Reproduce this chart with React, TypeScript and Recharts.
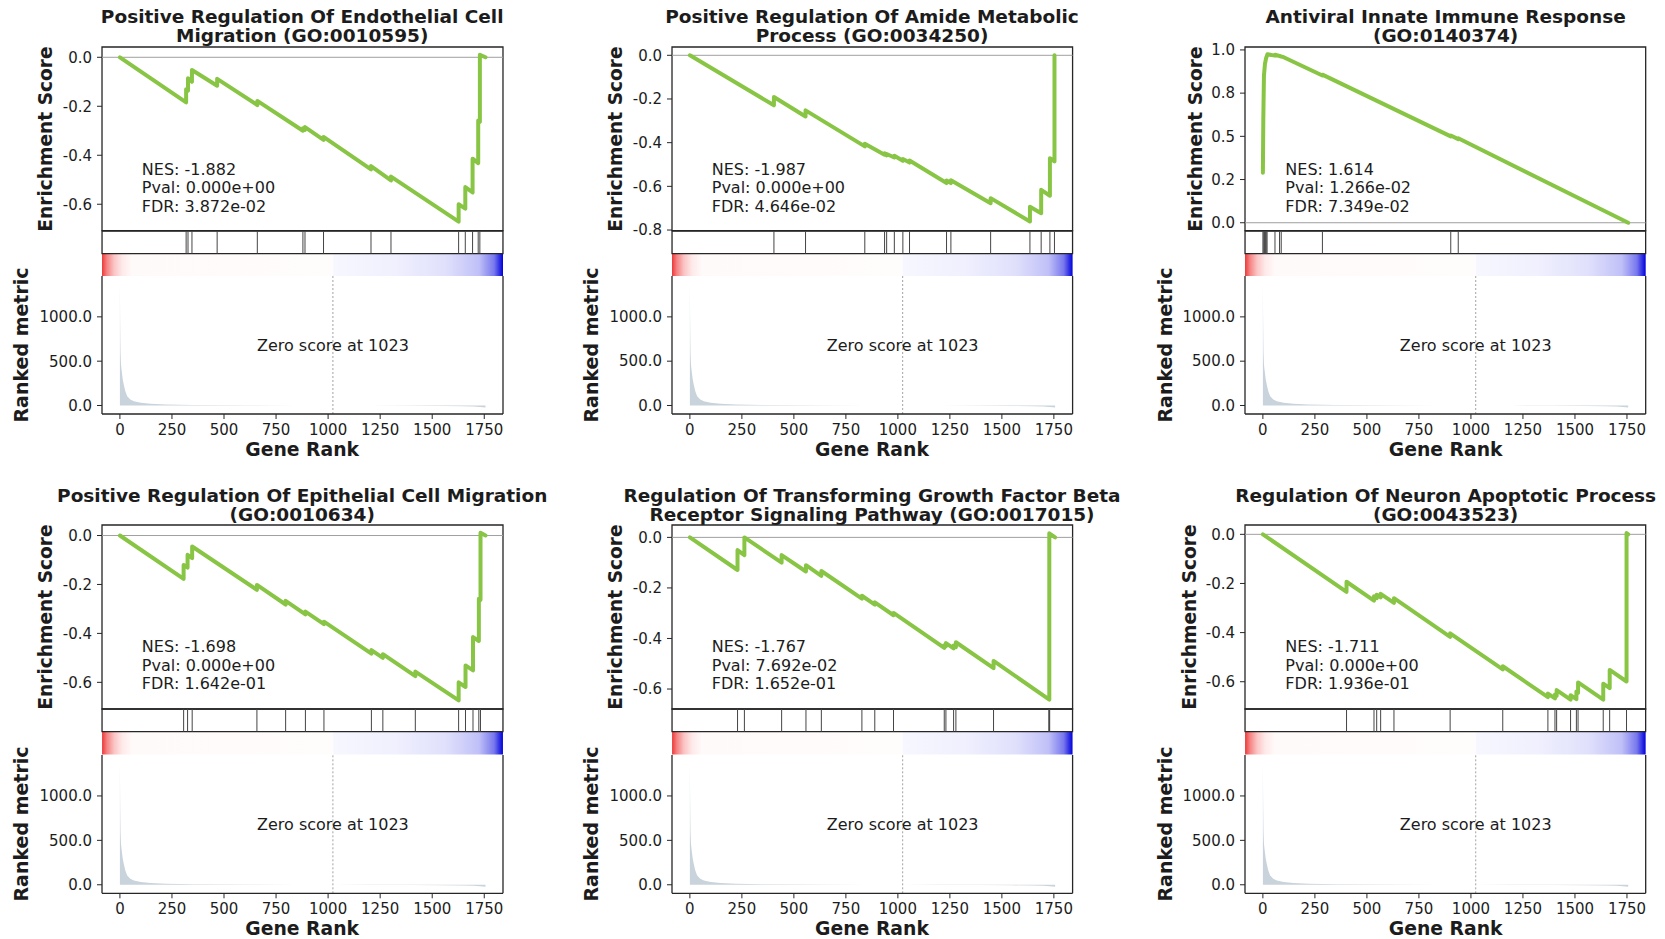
import React from 'react';
import { ComposedChart, Line, Area, XAxis, YAxis, ReferenceLine, ReferenceArea } from 'recharts';

const FONT = '"DejaVu Sans", "Liberation Sans", sans-serif';
const INK = '#1c1c1c';
const GREEN = '#88C544';
const FILL = '#C9D3DB';

// ---------- data ----------
const X_TICKS = [0, 250, 500, 750, 1000, 1250, 1500, 1750];
const X_DOMAIN: [number, number] = [-86, 1840];
const METRIC_TICKS = [0, 500, 1000];
const METRIC_DOMAIN: [number, number] = [-96, 1461];
const ZERO_SCORE = 1023;

// ranked list metric (rank, value)
const RANK_METRIC: [number, number][] = [
  [0, 1390], [1, 1000], [2, 760], [3, 600], [5, 470], [7, 420], [10, 360], [14, 290], [19, 230],
  [26, 160], [35, 105], [50, 68], [67, 48], [100, 30], [147, 19], [220, 11], [350, 6], [600, 3],
  [850, 1], [1023, 0], [1200, -1.5], [1400, -3.5], [1550, -6], [1650, -9], [1700, -12], [1730, -16], [1756, -22],
];

const TITLES: [string, string][] = [
  ['Positive Regulation Of Endothelial Cell', 'Migration (GO:0010595)'],
  ['Positive Regulation Of Amide Metabolic', 'Process (GO:0034250)'],
  ['Antiviral Innate Immune Response', '(GO:0140374)'],
  ['Positive Regulation Of Epithelial Cell Migration', '(GO:0010634)'],
  ['Regulation Of Transforming Growth Factor Beta', 'Receptor Signaling Pathway (GO:0017015)'],
  ['Regulation Of Neuron Apoptotic Process', '(GO:0043523)'],
];
const NES = ['-1.882', '-1.987', '1.614', '-1.698', '-1.767', '-1.711'];
const PVAL = ['0.000e+00', '0.000e+00', '1.266e-02', '0.000e+00', '7.692e-02', '0.000e+00'];
const FDR = ['3.872e-02', '4.646e-02', '7.349e-02', '1.642e-01', '1.652e-01', '1.936e-01'];

const ES_1: [number, number][] = [
  [0, 0], [318, -0.184], [318, -0.131], [327, -0.136], [327, -0.086], [346, -0.1], [346, -0.052],
  [467, -0.116], [467, -0.088], [660, -0.195], [660, -0.178], [879, -0.3], [879, -0.29], [889, -0.296],
  [889, -0.285], [978, -0.337], [978, -0.325], [1206, -0.458], [1206, -0.444], [1302, -0.503], [1302, -0.487],
  [1627, -0.671], [1627, -0.6], [1659, -0.618], [1659, -0.53], [1694, -0.552], [1694, -0.414], [1721, -0.432],
  [1721, -0.258], [1729, -0.263], [1729, 0.01], [1756, 0],
];
const HITS_1 = [318, 327, 346, 467, 660, 879, 889, 978, 1206, 1302, 1627, 1659, 1694, 1721, 1729];

const ES_2: [number, number][] = [
  [0, 0], [404, -0.229], [404, -0.191], [556, -0.28], [556, -0.252], [841, -0.417], [841, -0.405],
  [936, -0.455], [936, -0.448], [946, -0.458], [946, -0.452], [983, -0.468], [983, -0.46], [1024, -0.483],
  [1024, -0.475], [1056, -0.491], [1056, -0.482], [1234, -0.585], [1234, -0.573], [1255, -0.585], [1255, -0.572],
  [1446, -0.677], [1446, -0.654], [1635, -0.761], [1635, -0.693], [1689, -0.723], [1689, -0.616], [1731, -0.643],
  [1731, -0.471], [1753, -0.486], [1753, 0],
];
const HITS_2 = [404, 556, 841, 936, 946, 983, 1024, 1056, 1234, 1255, 1446, 1635, 1689, 1731, 1753];

const ES_3: [number, number][] = [
  [0, 0.29], [2, 0.6], [5, 0.85], [10, 0.92], [16, 0.955], [22, 0.975], [58, 0.967], [58, 0.972],
  [80, 0.965], [88, 0.962], [100, 0.958], [286, 0.852], [286, 0.857], [903, 0.5], [903, 0.505],
  [939, 0.484], [939, 0.489], [1756, 0],
];
const HITS_3 = [0, 4, 8, 12, 16, 20, 58, 80, 88, 286, 903, 939];

const ES_4: [number, number][] = [
  [0, 0], [306, -0.177], [306, -0.12], [325, -0.131], [325, -0.079], [347, -0.092], [347, -0.045],
  [658, -0.222], [658, -0.202], [796, -0.282], [796, -0.267], [891, -0.322], [891, -0.311], [980, -0.362],
  [980, -0.352], [1208, -0.483], [1208, -0.468], [1263, -0.5], [1263, -0.485], [1419, -0.575], [1419, -0.556],
  [1627, -0.674], [1627, -0.6], [1660, -0.619], [1660, -0.531], [1696, -0.551], [1696, -0.415], [1724, -0.431],
  [1724, -0.258], [1732, -0.263], [1732, 0.011], [1756, 0],
];
const HITS_4 = [306, 325, 347, 658, 796, 891, 980, 1208, 1263, 1419, 1627, 1660, 1696, 1724, 1732];

const ES_5: [number, number][] = [
  [0, 0], [229, -0.129], [229, -0.05], [262, -0.07], [262, 0], [441, -0.1], [441, -0.07], [558, -0.135],
  [558, -0.11], [632, -0.152], [632, -0.133], [827, -0.242], [827, -0.231], [889, -0.266], [889, -0.257],
  [979, -0.308], [979, -0.299], [1223, -0.437], [1223, -0.427], [1231, -0.431], [1231, -0.418], [1268, -0.439],
  [1268, -0.428], [1279, -0.434], [1279, -0.415], [1460, -0.517], [1460, -0.489], [1728, -0.642], [1728, 0.016],
  [1756, 0],
];
const HITS_5 = [229, 262, 441, 558, 632, 827, 889, 979, 1223, 1231, 1268, 1279, 1460, 1726, 1728, 1730];

const ES_6: [number, number][] = [
  [0, 0], [402, -0.234], [402, -0.193], [534, -0.27], [534, -0.252], [547, -0.26], [547, -0.246], [566, -0.257],
  [566, -0.242], [630, -0.279], [630, -0.26], [900, -0.417], [900, -0.403], [1153, -0.55], [1153, -0.537],
  [1370, -0.663], [1370, -0.648], [1404, -0.668], [1404, -0.652], [1412, -0.657], [1412, -0.634], [1479, -0.673],
  [1479, -0.655], [1507, -0.671], [1507, -0.64], [1515, -0.645], [1515, -0.603], [1636, -0.673], [1636, -0.608],
  [1667, -0.626], [1667, -0.552], [1748, -0.599], [1748, 0.005], [1756, 0],
];
const HITS_6 = [402, 534, 547, 566, 630, 900, 1153, 1370, 1404, 1412, 1479, 1507, 1515, 1636, 1667, 1748];

const ES_TICKS_A = [-0.6, -0.4, -0.2, 0];
const ES_TICKS_B = [-0.8, -0.6, -0.4, -0.2, 0];
const ES_TICKS_C = [0, 0.25, 0.5, 0.75, 1];
const ES_TICK_LABELS_C = ['0.0', '0.2', '0.5', '0.8', '1.0'];

// ---------- layout ----------
const COLS = [
  { l: 101.7, r: 502.7 },
  { l: 671.7, r: 1072.3 },
  { l: 1245.3, r: 1646 },
];
const ROWS = [
  { t: 47, es: 230.7, hits: 253.3, cb: 276.3, b: 414.3, t1: 17.3, t2: 36 },
  { t: 524.7, es: 708.7, hits: 731.3, cb: 754.7, b: 893, t1: 495.5, t2: 514.5 },
];

const fmt1 = (v: number) => v.toFixed(1);
const fmtC = (v: number) => ES_TICK_LABELS_C[ES_TICKS_C.indexOf(v)] ?? v.toFixed(1);

const PANELS = [
  { es: ES_1, hits: HITS_1, domain: [-0.708, 0.042] as [number, number], ticks: ES_TICKS_A, fmt: fmt1, labelDx: 55.5 },
  { es: ES_2, hits: HITS_2, domain: [-0.803, 0.038] as [number, number], ticks: ES_TICKS_B, fmt: fmt1, labelDx: 56 },
  { es: ES_3, hits: HITS_3, domain: [-0.046, 1.017] as [number, number], ticks: ES_TICKS_C, fmt: fmtC, labelDx: 49.5 },
  { es: ES_4, hits: HITS_4, domain: [-0.709, 0.043] as [number, number], ticks: ES_TICKS_A, fmt: fmt1, labelDx: 55.5 },
  { es: ES_5, hits: HITS_5, domain: [-0.679, 0.049] as [number, number], ticks: ES_TICKS_A, fmt: fmt1, labelDx: 56 },
  { es: ES_6, hits: HITS_6, domain: [-0.711, 0.038] as [number, number], ticks: ES_TICKS_A, fmt: fmt1, labelDx: 55.5 },
];

const PAD = 6;
const PADB = 14;
const YW = 70;
const XH = 30;
const TICK_STYLE = { fontSize: 15, fill: INK, fontFamily: FONT };
const FRAME = '#262626';

type Col = { l: number; r: number };
type Row = typeof ROWS[number];

function EsChart({ p, col, row }: { p: typeof PANELS[number]; col: Col; row: Row }) {
  const plotW = col.r - col.l;
  const h = row.es - row.t;
  const data = p.es.map(([x, y]) => ({ x, y }));
  return (
    <div style={{ position: 'absolute', left: col.l - YW, top: row.t - PAD }}>
      <ComposedChart width={YW + plotW + PAD} height={h + PAD + PADB} data={data}
        margin={{ top: PAD, right: PAD, bottom: PADB, left: 0 }}>
        <XAxis type="number" dataKey="x" domain={X_DOMAIN} allowDataOverflow hide />
        <YAxis type="number" domain={p.domain} allowDataOverflow ticks={p.ticks} interval={0}
          tickFormatter={p.fmt} width={YW} axisLine={false} tickLine={{ stroke: FRAME }}
          tickSize={5} tickMargin={5} tick={TICK_STYLE} />
        <ReferenceLine y={0} stroke="#a0a0a0" strokeWidth={1} />
        <Line type="linear" dataKey="y" stroke={GREEN} strokeWidth={4} dot={false}
          isAnimationActive={false} strokeLinejoin="round" strokeLinecap="round" />
        <ReferenceArea x1={X_DOMAIN[0]} x2={X_DOMAIN[1]} y1={p.domain[0]} y2={p.domain[1]}
          fill="none" fillOpacity={0} stroke={FRAME} strokeWidth={1.3} ifOverflow="visible" />
      </ComposedChart>
    </div>
  );
}

function HitsChart({ hits, col, row }: { hits: number[]; col: Col; row: Row }) {
  const plotW = col.r - col.l;
  const h = row.hits - row.es;
  const data = hits.map((x) => ({ x, y: 0.5 }));
  return (
    <div style={{ position: 'absolute', left: col.l - PAD, top: row.es - PAD }}>
      <ComposedChart width={plotW + 2 * PAD} height={h + 2 * PAD} data={data}
        margin={{ top: PAD, right: PAD, bottom: PAD, left: PAD }}>
        <XAxis type="number" dataKey="x" domain={X_DOMAIN} allowDataOverflow hide />
        <YAxis type="number" domain={[0, 1]} allowDataOverflow hide />
        {hits.map((x, i) => (
          <ReferenceLine key={i} x={x} stroke="#444" strokeWidth={1} />
        ))}
        <ReferenceArea x1={X_DOMAIN[0]} x2={X_DOMAIN[1]} y1={0} y2={1}
          fill="none" fillOpacity={0} stroke={FRAME} strokeWidth={1.3} ifOverflow="visible" />
      </ComposedChart>
    </div>
  );
}

function ColorbarChart({ col, row }: { col: Col; row: Row }) {
  const plotW = col.r - col.l;
  const h = row.cb - row.hits;
  return (
    <div style={{ position: 'absolute', left: col.l - PAD, top: row.hits - PAD }}>
      <ComposedChart width={plotW + 2 * PAD} height={h + 2 * PAD} data={[{ x: 0, y: 0 }]}
        margin={{ top: PAD, right: PAD, bottom: PAD, left: PAD }}>
        <XAxis type="number" dataKey="x" domain={X_DOMAIN} allowDataOverflow hide />
        <YAxis type="number" domain={[0, 1]} allowDataOverflow hide />
        <ReferenceArea x1={X_DOMAIN[0]} x2={X_DOMAIN[1]} y1={0} y2={1}
          fill="url(#cbGrad)" fillOpacity={1} stroke="none" ifOverflow="visible" />
      </ComposedChart>
    </div>
  );
}

function MetricChart({ col, row }: { col: Col; row: Row }) {
  const plotW = col.r - col.l;
  const h = row.b - row.cb;
  const data = RANK_METRIC.map(([r, m]) => ({ r, m }));
  return (
    <div style={{ position: 'absolute', left: col.l - YW, top: row.cb - PAD }}>
      <ComposedChart width={YW + plotW + PAD} height={PAD + h + XH} data={data}
        margin={{ top: PAD, right: PAD, bottom: 0, left: 0 }}>
        <XAxis type="number" dataKey="r" domain={X_DOMAIN} allowDataOverflow ticks={X_TICKS} interval={0}
          height={XH} axisLine={false} tickLine={{ stroke: FRAME }} tickSize={5} tickMargin={5} tick={TICK_STYLE} />
        <YAxis type="number" domain={METRIC_DOMAIN} allowDataOverflow ticks={METRIC_TICKS} interval={0}
          tickFormatter={fmt1} width={YW} axisLine={false} tickLine={{ stroke: FRAME }}
          tickSize={5} tickMargin={5} tick={TICK_STYLE} />
        <Area type="linear" dataKey="m" stroke="none" fill={FILL} fillOpacity={1} baseValue={0}
          isAnimationActive={false} />
        <ReferenceLine x={ZERO_SCORE} stroke="#8c8c8c" strokeWidth={0.8} strokeDasharray="2 2"
          label={{ value: `Zero score at ${ZERO_SCORE}`, position: 'center', fontSize: 16, fill: INK, fontFamily: FONT }} />
        <ReferenceLine x={X_DOMAIN[0]} stroke={FRAME} strokeWidth={1.3} ifOverflow="visible" />
        <ReferenceLine x={X_DOMAIN[1]} stroke={FRAME} strokeWidth={1.3} ifOverflow="visible" />
        <ReferenceLine y={METRIC_DOMAIN[0]} stroke={FRAME} strokeWidth={1.3} ifOverflow="visible" />
      </ComposedChart>
    </div>
  );
}

function Panel({ i }: { i: number }) {
  const p = PANELS[i];
  const col = COLS[i % 3];
  const row = ROWS[Math.floor(i / 3)];
  const cx = (col.l + col.r) / 2;
  const plotW = col.r - col.l;
  const titleStyle: React.CSSProperties = {
    position: 'absolute', left: cx - 400, width: 800, textAlign: 'center', fontWeight: 'bold',
    fontSize: 18.5, lineHeight: '18px', whiteSpace: 'nowrap', color: INK,
  };
  const rot = (x: number, y: number, text: string, size: number): React.ReactNode => (
    <div style={{
      position: 'absolute', left: x, top: y, transform: 'translate(-50%, -50%) rotate(-90deg)',
      fontWeight: 'bold', fontSize: size, whiteSpace: 'nowrap', lineHeight: '1', color: INK,
    }}>{text}</div>
  );
  const statStyle = (cyy: number): React.CSSProperties => ({
    position: 'absolute', left: col.l + 0.1 * plotW, top: cyy - 9, fontSize: 16, lineHeight: '18px',
    whiteSpace: 'nowrap', color: INK,
  });
  return (
    <>
      <div style={{ ...titleStyle, top: row.t1 - 9 }}>{TITLES[i][0]}</div>
      <div style={{ ...titleStyle, top: row.t2 - 9 }}>{TITLES[i][1]}</div>
      <ColorbarChart col={col} row={row} />
      <MetricChart col={col} row={row} />
      <EsChart p={p} col={col} row={row} />
      <HitsChart hits={p.hits} col={col} row={row} />
      <div style={statStyle(row.t + 122.7)}>NES: {NES[i]}</div>
      <div style={statStyle(row.t + 141.1)}>Pval: {PVAL[i]}</div>
      <div style={statStyle(row.t + 159.5)}>FDR: {FDR[i]}</div>
      {rot(col.l - p.labelDx, (row.t + row.es) / 2, 'Enrichment Score', 18.6)}
      {rot(col.l - 80.5, (row.cb + row.b) / 2, 'Ranked metric', 19)}
      <div style={{
        position: 'absolute', left: cx - 200, width: 400, top: row.b + 35.7 - 10, textAlign: 'center',
        fontWeight: 'bold', fontSize: 18.8, lineHeight: '20px', color: INK,
      }}>Gene Rank</div>
    </>
  );
}

export default function App() {
  return (
    <div style={{
      position: 'absolute', left: 0, top: 0, width: 1665, height: 939, background: '#fff',
      fontFamily: FONT, overflow: 'hidden',
    }}>
      <svg width={0} height={0} style={{ position: 'absolute' }}>
        <defs>
          <linearGradient id="cbGrad" x1="0" y1="0" x2="1" y2="0">
            <stop offset="0" stopColor="rgb(236,56,56)" />
            <stop offset="0.012" stopColor="rgb(245,130,130)" />
            <stop offset="0.03" stopColor="rgb(251,196,196)" />
            <stop offset="0.05" stopColor="rgb(254,233,233)" />
            <stop offset="0.075" stopColor="rgb(255,250,250)" />
            <stop offset="0.575" stopColor="rgb(255,252,252)" />
            <stop offset="0.578" stopColor="rgb(247,247,255)" />
            <stop offset="0.73" stopColor="rgb(240,240,254)" />
            <stop offset="0.857" stopColor="rgb(224,224,252)" />
            <stop offset="0.94" stopColor="rgb(192,192,248)" />
            <stop offset="0.978" stopColor="rgb(120,120,238)" />
            <stop offset="1" stopColor="rgb(0,0,220)" />
          </linearGradient>
        </defs>
      </svg>
      {[0, 1, 2, 3, 4, 5].map((i) => <Panel key={i} i={i} />)}
    </div>
  );
}
